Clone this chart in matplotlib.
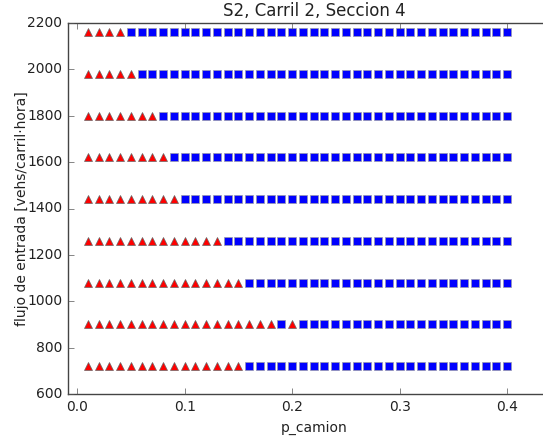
import matplotlib
matplotlib.use('Agg')
import matplotlib.pyplot as plt

# truck share values tested on every flow level
p_camion = [0.01, 0.02, 0.03, 0.04, 0.05, 0.06, 0.07, 0.08, 0.09, 0.10,
            0.11, 0.12, 0.13, 0.14, 0.15, 0.16, 0.17, 0.18, 0.19, 0.20,
            0.21, 0.22, 0.23, 0.24, 0.25, 0.26, 0.27, 0.28, 0.29, 0.30,
            0.31, 0.32, 0.33, 0.34, 0.35, 0.36, 0.37, 0.38, 0.39, 0.40]

flujo = [720, 900, 1080, 1260, 1440, 1620, 1800, 1980, 2160]

# result per point: T = triangle (red), S = square (blue)
resultado = {
    720:  "TTTTTTTTTTTTTTTSSSSSSSSSSSSSSSSSSSSSSSSS",
    900:  "TTTTTTTTTTTTTTTTTTSTSSSSSSSSSSSSSSSSSSSS",
    1080: "TTTTTTTTTTTTTTTSSSSSSSSSSSSSSSSSSSSSSSSS",
    1260: "TTTTTTTTTTTTTSSSSSSSSSSSSSSSSSSSSSSSSSSS",
    1440: "TTTTTTTTTSSSSSSSSSSSSSSSSSSSSSSSSSSSSSSS",
    1620: "TTTTTTTTSSSSSSSSSSSSSSSSSSSSSSSSSSSSSSSS",
    1800: "TTTTTTTSSSSSSSSSSSSSSSSSSSSSSSSSSSSSSSSS",
    1980: "TTTTTSSSSSSSSSSSSSSSSSSSSSSSSSSSSSSSSSSS",
    2160: "TTTTSSSSSSSSSSSSSSSSSSSSSSSSSSSSSSSSSSSS",
}

plt.style.use('classic')
fig = plt.figure(figsize=(5.43, 4.37), dpi=100, facecolor='white')
x0, x1 = -0.0085, 0.45
ax = fig.add_axes([68 / 543, 43 / 437, (x1 - x0) * 1075 / 543, 371 / 437])

for f in flujo:
    tx = [p for p, c in zip(p_camion, resultado[f]) if c == 'T']
    sx = [p for p, c in zip(p_camion, resultado[f]) if c == 'S']
    ax.plot(tx, [f] * len(tx), linestyle='none', marker='^', markersize=6,
            color='red', markeredgecolor='#666666', markeredgewidth=0.5)
    ax.plot(sx, [f] * len(sx), linestyle='none', marker='s', markersize=5.3,
            color='blue', markeredgecolor='#9a9aaa', markeredgewidth=0.5)

ax.set_xlim(x0, x1)
ax.set_ylim(600, 2200)
ax.set_xticks([0.0, 0.1, 0.2, 0.3, 0.4])
ax.set_yticks(range(600, 2201, 200))
for s in ax.spines.values():
    s.set_color('#444444')
ax.tick_params(labelsize=10, color='#555555', labelcolor='#222222')
ax.set_title('S2, Carril 2, Seccion 4', fontsize=12, color='#222222')
ax.set_xlabel('p_camion', fontsize=10, color='#222222')
ax.set_ylabel('flujo de entrada [vehs/carril\u00b7hora]', fontsize=10,
              color='#222222', labelpad=-1)

fig.savefig('out.png', dpi=100, facecolor='white')
